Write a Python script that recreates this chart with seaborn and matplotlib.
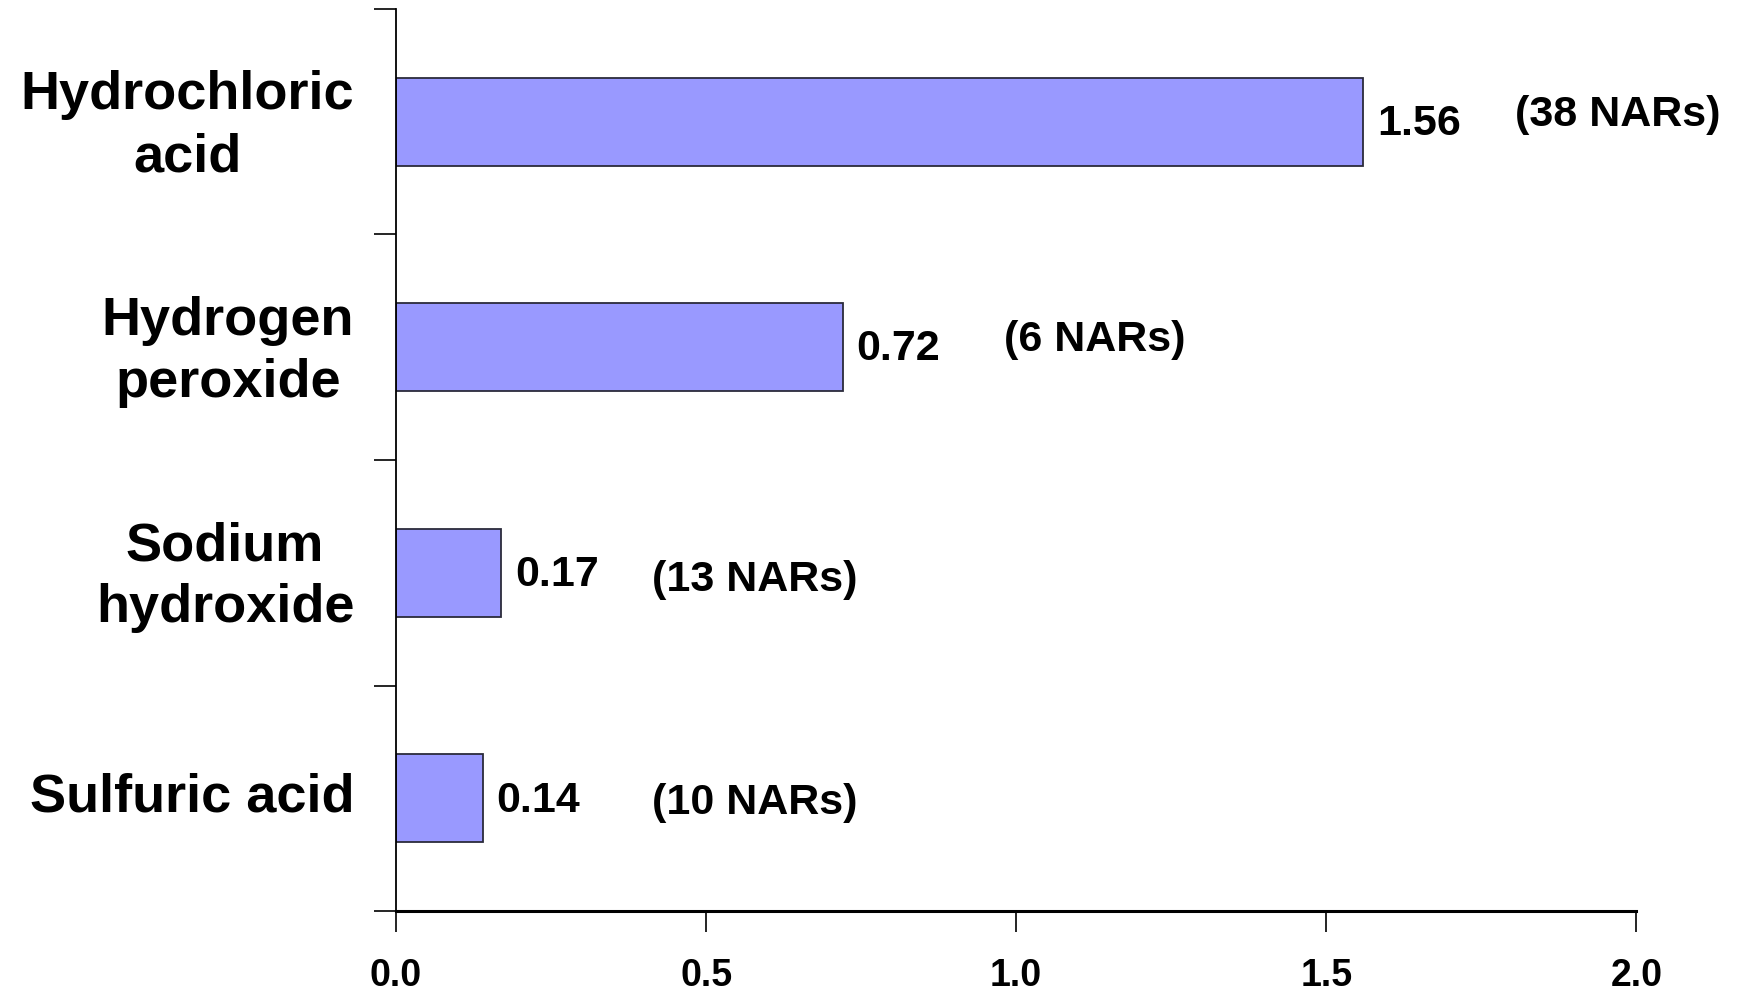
import matplotlib
matplotlib.use("Agg")
import matplotlib.pyplot as plt
import seaborn as sns
import numpy as np
import pandas as pd

# chart data
chemicals = ["Hydrochloric\nacid", "Hydrogen\nperoxide", "Sodium\nhydroxide", "Sulfuric acid"]
values = [1.56, 0.72, 0.17, 0.14]
nar_counts = [38, 6, 13, 10]

# where the "(n NARs)" notes sit (x in data units, y nudge in category units)
nar_x = [1.805, 0.98, 0.412, 0.412]
nar_dy = [-0.03, -0.03, 0.03, 0.02]

sns.set_style("ticks")
plt.rcParams['font.family'] = ['Liberation Sans', 'DejaVu Sans']
plt.rcParams['text.color'] = 'black'

df = pd.DataFrame({"chemical": chemicals, "value": values})

fig, ax = plt.subplots(figsize=(17.37, 9.93), dpi=100)
fig.subplots_adjust(left=0.228, right=0.942, top=0.991, bottom=0.0825)

sns.barplot(data=df, x="value", y="chemical", orient="h", color="#9999FF",
            saturation=1, edgecolor="#2b2b3a", linewidth=1.3, width=0.39, ax=ax)

# value labels and NAR counts
for i, (v, n) in enumerate(zip(values, nar_counts)):
    ax.text(v + 0.022, i + 0.01, f"{v:.2f}", ha="left", va="center",
            fontsize=31, fontweight="bold", color="black")
    ax.text(nar_x[i], i + nar_dy[i], f"({n} NARs)", ha="left", va="center",
            fontsize=31, fontweight="bold", color="black")

# axes styling
ax.set_xlim(0, 2.0)
ax.set_ylim(3.5, -0.5)
ax.set_xticks(np.arange(0, 2.01, 0.5))
ax.set_xticklabels([f"{t:.1f}" for t in np.arange(0, 2.01, 0.5)],
                   fontweight="bold", fontsize=27, color="black")
ax.tick_params(axis="x", direction="out", length=15, width=1.2, pad=19, colors="black")

# category boundaries as ticks, names on minor ticks near the centers
ax.set_yticks(np.arange(-0.5, len(chemicals), 1.0))
ax.set_yticklabels([])
ax.tick_params(axis="y", which="major", direction="out", length=16, width=1.2, colors="black")
ax.set_yticks(np.arange(len(chemicals)) - 0.03, minor=True)
ax.set_yticklabels(chemicals, minor=True, fontsize=39, fontweight="bold",
                   multialignment="center", linespacing=1.3, color="black")
ax.tick_params(axis="y", which="minor", length=0, pad=30)

ax.set_xlabel("")
ax.set_ylabel("")
sns.despine(ax=ax)
for side in ["left", "bottom"]:
    ax.spines[side].set_color("black")
    ax.spines[side].set_linewidth(1.3)
ax.spines["bottom"].set_linewidth(2.2)

fig.savefig("out.png", dpi=100, facecolor="white")
